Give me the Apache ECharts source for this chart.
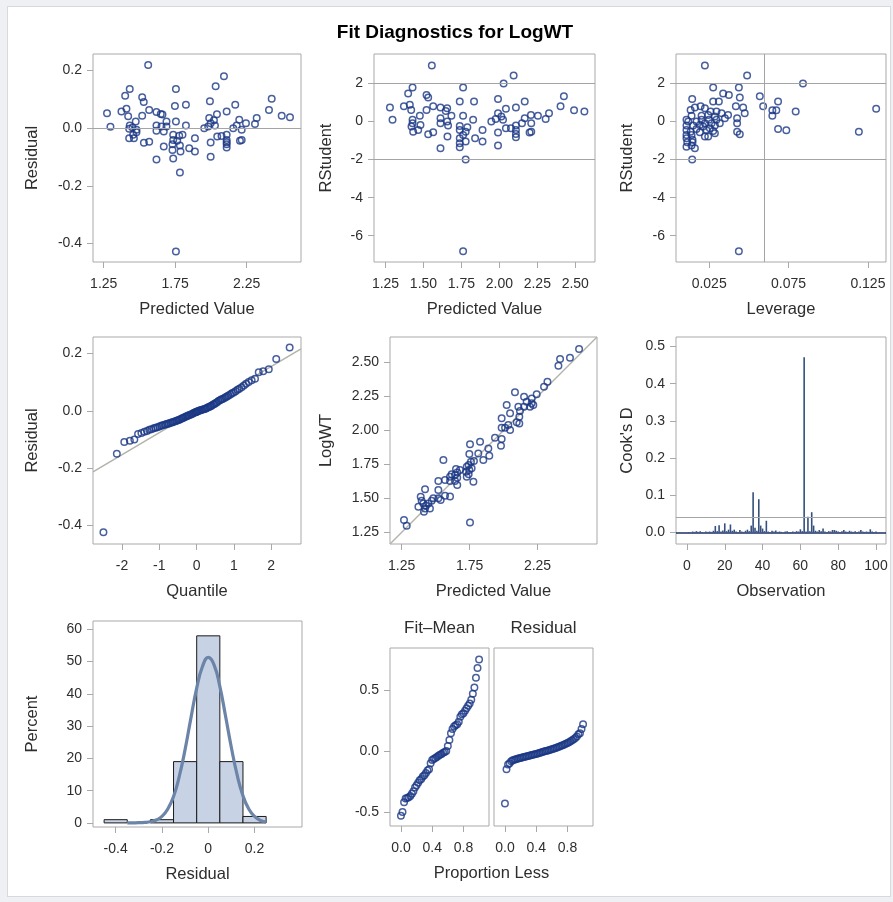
<!DOCTYPE html>
<html><head><meta charset="utf-8">
<script src="https://cdn.jsdelivr.net/npm/echarts@6/dist/echarts.min.js"></script>
<style>
html,body{margin:0;padding:0;background:#eef0f4;}
#bg{position:absolute;left:7px;top:6px;width:882px;height:889px;background:#fff;border:1px solid #d6d9df;}
#c{position:absolute;left:0;top:0;width:893px;height:902px;}
</style>
</head><body><div id="bg"></div><div id="c"></div>
<script>
// ---------- DATA ----------
// Panel 1: Residual vs Predicted Value
const residVsPred = [[1.561,0.219],[2.091,0.180],[2.033,0.145],[1.432,0.136],[1.755,0.136],[1.400,0.112],[1.519,0.107],[1.530,0.091],[2.425,0.102],[1.993,0.093],[1.825,0.081],[1.748,0.077],[2.170,0.081],[2.406,0.063],[1.273,0.052],[1.374,0.058],[1.409,0.067],[1.421,0.041],[1.568,0.063],[1.519,0.043],[1.619,0.056],[1.649,0.049],[1.661,0.047],[2.110,0.058],[2.042,0.048],[2.495,0.043],[2.553,0.038],[2.320,0.035],[2.198,0.029],[2.245,0.017],[2.308,0.014],[1.988,0.035],[2.021,0.027],[1.998,0.017],[2.028,0.009],[1.755,0.023],[1.825,0.009],[1.689,0.023],[1.474,0.023],[1.297,0.005],[1.432,0.009],[1.451,0.002],[1.428,-0.002],[1.479,-0.006],[1.619,0.009],[1.654,0.006],[1.619,-0.009],[1.670,-0.012],[1.953,0.000],[1.981,0.006],[2.156,0.000],[2.180,0.009],[2.215,-0.006],[1.428,-0.035],[1.461,-0.035],[1.479,-0.014],[1.736,-0.023],[1.736,-0.041],[1.778,-0.026],[1.801,-0.023],[1.764,-0.044],[1.888,-0.035],[1.783,-0.060],[1.787,-0.081],[1.731,-0.076],[1.848,-0.070],[1.888,-0.081],[1.670,-0.064],[1.568,-0.047],[1.531,-0.051],[2.044,-0.029],[2.074,-0.027],[2.110,-0.023],[2.110,-0.041],[2.110,-0.056],[2.110,-0.067],[1.998,-0.050],[2.203,-0.044],[2.215,-0.041],[1.619,-0.109],[1.736,-0.105],[1.998,-0.099],[1.783,-0.154],[1.755,-0.428],[1.731,-0.056],[1.456,-0.023],[2.110,-0.049],[1.689,0.006]];
// Panel 2: RStudent vs Predicted Value
const rstudVsPred = [[1.555,2.95],[2.094,2.42],[2.028,2.00],[1.428,1.79],[1.761,1.79],[1.399,1.47],[1.520,1.40],[1.531,1.26],[2.425,1.33],[1.991,1.19],[1.739,1.05],[1.833,1.05],[2.167,1.05],[2.403,0.81],[1.279,0.74],[1.371,0.81],[1.410,0.88],[1.419,0.61],[1.564,0.81],[1.520,0.61],[1.612,0.74],[1.656,0.70],[1.647,0.56],[2.109,0.74],[2.043,0.67],[2.492,0.60],[2.560,0.53],[2.327,0.44],[2.208,0.35],[2.254,0.30],[2.305,0.14],[1.476,0.30],[1.991,0.44],[2.013,0.26],[2.024,0.09],[1.761,0.30],[1.827,0.09],[1.684,0.30],[1.296,0.09],[1.428,0.09],[1.428,-0.09],[1.421,-0.26],[1.480,-0.18],[1.612,0.18],[1.656,0.00],[1.612,-0.09],[1.662,-0.21],[1.947,0.00],[1.976,0.14],[2.149,-0.09],[2.167,0.18],[2.210,-0.09],[1.432,-0.53],[1.465,-0.44],[1.531,-0.67],[1.564,-0.56],[1.739,-0.23],[1.739,-0.44],[1.789,-0.30],[1.761,-0.70],[1.739,-0.88],[1.778,-1.05],[1.739,-1.35],[1.658,-0.79],[1.840,-0.88],[1.889,-0.44],[1.889,-1.05],[1.991,-0.58],[1.991,-1.26],[2.043,-0.35],[2.076,-0.35],[2.109,-0.44],[2.109,-0.65],[2.109,-0.82],[2.210,-0.53],[2.199,-0.58],[1.612,-1.40],[1.778,-2.00],[1.761,-6.81],[2.109,-0.21],[1.739,-1.14],[1.778,-0.53]];
// Panel 3: RStudent vs Leverage
const rstudVsLev = [[0.0223,2.95],[0.0489,2.42],[0.0841,2.00],[0.0275,1.79],[0.0437,1.79],[0.0338,1.47],[0.0374,1.40],[0.0569,1.33],[0.0443,1.26],[0.0143,1.19],[0.0275,1.05],[0.0311,1.05],[0.0684,1.05],[0.0590,0.81],[0.0418,0.81],[0.0160,0.74],[0.0196,0.81],[0.0223,0.70],[0.0133,0.61],[0.0464,0.74],[0.1302,0.67],[0.0648,0.60],[0.0673,0.60],[0.0795,0.53],[0.0474,0.44],[0.0648,0.30],[0.0369,0.35],[0.0349,0.18],[0.0426,0.18],[0.0107,0.09],[0.0139,0.30],[0.0202,0.30],[0.0244,0.35],[0.0286,0.26],[0.0248,0.09],[0.0296,0.09],[0.0170,0.00],[0.0223,-0.09],[0.0265,-0.09],[0.0317,-0.09],[0.0426,-0.09],[0.0107,-0.21],[0.0149,-0.21],[0.0191,-0.18],[0.0286,-0.21],[0.0684,-0.39],[0.0736,-0.46],[0.1193,-0.53],[0.0107,-0.44],[0.0133,-0.53],[0.0191,-0.56],[0.0233,-0.44],[0.0286,-0.61],[0.0426,-0.53],[0.0443,-0.67],[0.0107,-0.70],[0.0139,-0.70],[0.0223,-0.79],[0.0244,-0.79],[0.0107,-0.88],[0.0145,-0.96],[0.0112,-1.09],[0.0145,-1.09],[0.0107,-1.32],[0.0160,-1.40],[0.0139,-1.26],[0.0143,-2.00],[0.0437,-6.81],[0.0170,-0.39],[0.0212,-0.26],[0.0254,-0.35],[0.0275,-0.49],[0.0118,0.00],[0.0202,0.09],[0.0259,0.53],[0.0296,0.53],[0.0328,0.44]];
const leverageCutoff = 0.0621;
const rstudCutoffs = [-2, 2];
// Panel 4: Q-Q plot of residuals
const qqQuantile = [-2.50,-2.14,-1.94,-1.79,-1.67,-1.57,-1.48,-1.40,-1.33,-1.27,-1.21,-1.15,-1.10,-1.05,-1.00,-0.95,-0.91,-0.86,-0.82,-0.78,-0.74,-0.70,-0.66,-0.63,-0.59,-0.55,-0.52,-0.48,-0.45,-0.41,-0.38,-0.35,-0.31,-0.28,-0.25,-0.22,-0.19,-0.15,-0.12,-0.09,-0.06,-0.03,-0.01,0.01,0.03,0.06,0.09,0.12,0.15,0.19,0.22,0.25,0.28,0.31,0.35,0.38,0.41,0.45,0.48,0.52,0.55,0.59,0.63,0.66,0.70,0.74,0.78,0.82,0.86,0.91,0.95,1.00,1.05,1.10,1.15,1.21,1.27,1.33,1.40,1.48,1.57,1.67,1.79,1.94,2.14,2.50];
const qqResidual = [-0.423,-0.150,-0.109,-0.104,-0.100,-0.081,-0.077,-0.073,-0.070,-0.066,-0.064,-0.061,-0.059,-0.057,-0.055,-0.052,-0.050,-0.049,-0.047,-0.045,-0.044,-0.042,-0.041,-0.039,-0.037,-0.036,-0.034,-0.032,-0.030,-0.028,-0.026,-0.024,-0.022,-0.020,-0.018,-0.016,-0.015,-0.013,-0.011,-0.009,-0.007,-0.005,-0.004,-0.003,-0.002,0.000,0.001,0.003,0.004,0.005,0.006,0.008,0.010,0.012,0.014,0.016,0.018,0.022,0.024,0.027,0.030,0.034,0.037,0.039,0.041,0.044,0.047,0.050,0.053,0.057,0.061,0.064,0.068,0.073,0.077,0.082,0.088,0.094,0.100,0.106,0.112,0.134,0.138,0.145,0.180,0.220];
const qqRefLine = [[-2.78,-0.213],[2.805,0.216]];
// Panel 5: LogWT vs Predicted Value
const logwtVsPred = [[2.556,2.600],[2.489,2.536],[2.416,2.526],[2.404,2.477],[2.323,2.359],[2.298,2.322],[2.244,2.266],[2.207,2.236],[2.207,2.200],[2.195,2.175],[2.170,2.212],[2.151,2.175],[2.219,2.187],[2.084,2.281],[2.151,2.249],[2.109,2.175],[2.121,2.143],[2.116,2.101],[2.116,2.052],[2.048,2.126],[2.023,2.187],[1.986,2.089],[1.986,2.020],[2.011,2.020],[2.048,2.003],[2.035,2.040],[2.097,2.060],[1.986,1.937],[1.981,1.888],[1.937,1.947],[1.888,1.868],[1.895,1.814],[1.827,1.917],[1.814,1.831],[1.851,1.782],[1.753,1.898],[1.748,1.826],[1.760,1.770],[1.782,1.775],[1.743,1.745],[1.729,1.733],[1.765,1.721],[1.748,1.709],[1.743,1.677],[1.724,1.696],[1.729,1.660],[1.778,1.623],[1.753,1.323],[1.650,1.716],[1.659,1.691],[1.679,1.709],[1.643,1.672],[1.659,1.652],[1.618,1.677],[1.606,1.660],[1.643,1.628],[1.659,1.598],[1.606,1.628],[1.569,1.635],[1.557,1.782],[1.520,1.628],[1.520,1.561],[1.569,1.520],[1.606,1.513],[1.537,1.488],[1.483,1.500],[1.471,1.483],[1.422,1.568],[1.390,1.512],[1.397,1.483],[1.409,1.463],[1.429,1.446],[1.422,1.426],[1.414,1.402],[1.458,1.426],[1.373,1.439],[1.446,1.463],[1.267,1.340],[1.287,1.299],[1.520,1.500]];
const identityLine = [[1.164,1.164],[2.688,2.688]];
// Panel 6: Cook's D by observation (1..100)
const cooksD = [0.001,0.000,0.002,0.001,0.003,0.001,0.003,0.001,0.000,0.002,0.001,0.002,0.001,0.004,0.017,0.003,0.019,0.002,0.005,0.024,0.003,0.007,0.021,0.004,0.007,0.002,0.001,0.006,0.002,0.001,0.004,0.007,0.003,0.018,0.108,0.012,0.004,0.089,0.018,0.010,0.003,0.031,0.002,0.001,0.004,0.002,0.005,0.001,0.002,0.001,0.000,0.002,0.003,0.001,0.001,0.002,0.001,0.003,0.002,0.008,0.003,0.471,0.002,0.042,0.003,0.054,0.018,0.004,0.002,0.006,0.003,0.010,0.002,0.001,0.003,0.002,0.006,0.006,0.004,0.002,0.001,0.003,0.006,0.002,0.001,0.004,0.002,0.001,0.003,0.001,0.002,0.006,0.002,0.001,0.002,0.001,0.008,0.002,0.001,0.002];
const cooksCutoff = 0.04;
// Panel 7: Histogram of residuals (percent) + density curve
const binStart = [-0.45,-0.35,-0.25,-0.15,-0.05,0.05,0.15];
const binEnd   = [-0.35,-0.25,-0.15,-0.05,0.05,0.15,0.25];
const binPercent = [1,0,1,19,58,19,2];
const densX = [-0.35,-0.325,-0.30,-0.275,-0.25,-0.225,-0.20,-0.175,-0.15,-0.125,-0.10,-0.075,-0.05,-0.025,0,0.025,0.05,0.075,0.10,0.125,0.15,0.175,0.20,0.225,0.25];
const densY = [0.0,0.02,0.06,0.15,0.35,0.9,2.0,4.3,8.2,14.5,22.8,32.5,41.8,48.5,51.3,49.0,42.3,33.0,23.3,14.8,8.4,4.3,2.0,0.8,0.3];
// Panel 8: Residual-Fit spread plot
const propLess = [0.00,0.02,0.04,0.06,0.08,0.10,0.12,0.14,0.16,0.18,0.20,0.22,0.24,0.26,0.28,0.30,0.32,0.34,0.36,0.38,0.40,0.42,0.44,0.46,0.48,0.50,0.52,0.54,0.56,0.58,0.60,0.62,0.64,0.66,0.68,0.70,0.72,0.74,0.76,0.78,0.80,0.82,0.84,0.86,0.88,0.90,0.92,0.94,0.96,0.98,1.00];
const fitMinusMean = [-0.53,-0.50,-0.42,-0.39,-0.385,-0.38,-0.37,-0.35,-0.33,-0.30,-0.28,-0.26,-0.24,-0.23,-0.21,-0.20,-0.18,-0.16,-0.15,-0.10,-0.075,-0.065,-0.058,-0.05,-0.04,-0.03,-0.025,-0.015,-0.008,0.0,0.04,0.09,0.145,0.18,0.20,0.21,0.22,0.24,0.28,0.30,0.31,0.33,0.35,0.37,0.39,0.42,0.47,0.52,0.60,0.68,0.75];
const sortedResid = [-0.43,-0.15,-0.11,-0.10,-0.085,-0.077,-0.072,-0.067,-0.063,-0.060,-0.057,-0.053,-0.050,-0.047,-0.044,-0.041,-0.037,-0.034,-0.030,-0.027,-0.024,-0.020,-0.016,-0.013,-0.009,-0.005,-0.001,0.002,0.006,0.010,0.014,0.018,0.022,0.027,0.032,0.037,0.042,0.047,0.053,0.059,0.065,0.072,0.079,0.087,0.096,0.106,0.118,0.138,0.145,0.18,0.22];
// Tick labels
const p1XTicks = [1.25,1.75,2.25];
const p2XTicks = [1.25,1.50,1.75,2.00,2.25,2.50];
const levTicks = [0.025,0.075,0.125];
const residTicks = [-0.4,-0.2,0.0,0.2];
const rstudTicks = [-6,-4,-2,0,2];
const qqTicks = [-2,-1,0,1,2];
const p5XTicks = [1.25,1.75,2.25];
const p5YTicks = [1.25,1.50,1.75,2.00,2.25,2.50];
const obsTicks = [0,20,40,60,80,100];
const cookTicks = [0.0,0.1,0.2,0.3,0.4,0.5];
const histXTicks = [-0.4,-0.2,0,0.2];
const pctTicks = [0,10,20,30,40,50,60];
const propTicks = [0.0,0.4,0.8];
const spreadTicks = [-0.5,0.0,0.5];

// ---------- CHART ----------
const MK = '#1a3784', REF = '#a4a4a4', BOX = '#a9a9a9', TXT = '#2e2e2e', LINE = '#b3b3ab';
const FONT = '"Liberation Sans", Arial, Helvetica, sans-serif';
const TICKFS = 14, NAMEFS = 16.5;
const f0 = v => String(v), f1 = v => v.toFixed(1), f2 = v => v.toFixed(2), f3 = v => v.toFixed(3);
const fh = v => v === 0 ? '0' : v.toFixed(1);

const gridBoxes = [
  [93,54,208,208],[374,54,221,208],[676,54,210,208],
  [93,337,208,207],[390,337,207,207],[676,337,210,207],
  [93,621,209,206],[390,648,99,178],[494,648,99,178]
];
const grid = gridBoxes.map(b => ({left:b[0], top:b[1], width:b[2], height:b[3], show:true,
  backgroundColor:'#fff', borderColor:BOX, borderWidth:1, containLabel:false}));

function mkX(gi, min, max, ticks, fmt, name) {
  return {type:'value', gridIndex:gi, min, max, position:'bottom',
    name:name||'', nameLocation:'middle', nameGap:39,
    nameTextStyle:{fontFamily:FONT, fontSize:NAMEFS, color:TXT},
    axisLine:{show:false, onZero:false}, splitLine:{show:false},
    axisTick:{show:true, length:6, lineStyle:{color:BOX}, customValues:ticks},
    axisLabel:{show:true, customValues:ticks, formatter:fmt, fontFamily:FONT, fontSize:TICKFS, color:TXT, margin:15}};
}
function mkY(gi, min, max, ticks, fmt, name, gap, hide) {
  return {type:'value', gridIndex:gi, min, max, position:'left',
    name:name||'', nameLocation:'middle', nameGap:gap||40, nameRotate:90,
    nameTextStyle:{fontFamily:FONT, fontSize:NAMEFS, color:TXT},
    axisLine:{show:false, onZero:false}, splitLine:{show:false},
    axisTick:{show:!hide, length:6, lineStyle:{color:BOX}, customValues:ticks},
    axisLabel:{show:!hide, customValues:ticks, formatter:fmt, fontFamily:FONT, fontSize:TICKFS, color:TXT, margin:11}};
}
const xAxis = [
  mkX(0, 1.175, 2.63, p1XTicks, f2, 'Predicted Value'),
  mkX(1, 1.174, 2.63, p2XTicks, f2, 'Predicted Value'),
  mkX(2, 0.0041, 0.1364, levTicks, f3, 'Leverage'),
  mkX(3, -2.78, 2.805, qqTicks, f0, 'Quantile'),
  mkX(4, 1.164, 2.688, p5XTicks, f2, 'Predicted Value'),
  mkX(5, -5.8, 105.3, obsTicks, f0, 'Observation'),
  mkX(6, -0.498, 0.405, histXTicks, fh, 'Residual'),
  mkX(7, -0.14, 1.127, propTicks, f1, ''),
  mkX(8, -0.14, 1.127, propTicks, f1, '')
];
const yAxis = [
  mkY(0, -0.464, 0.257, residTicks, f1, 'Residual', 52),
  mkY(1, -7.38, 3.55, rstudTicks, f0, 'RStudent', 39),
  mkY(2, -7.38, 3.55, rstudTicks, f0, 'RStudent', 40),
  mkY(3, -0.464, 0.257, residTicks, f1, 'Residual', 52),
  mkY(4, 1.164, 2.688, p5YTicks, f2, 'LogWT', 55),
  mkY(5, -0.0316, 0.5256, cookTicks, f1, "Cook's D", 40),
  mkY(6, -1.27, 62.6, pctTicks, f0, 'Percent', 52),
  mkY(7, -0.615, 0.844, spreadTicks, f1, '', 40),
  mkY(8, -0.615, 0.844, spreadTicks, f1, '', 40, true)
];

const mlBase = {silent:true, symbol:'none', animation:false, label:{show:false},
  lineStyle:{color:REF, width:1, type:'solid'}, emphasis:{disabled:true}};
function sc(gi, data, ml) {
  const s = {type:'scatter', xAxisIndex:gi, yAxisIndex:gi, data, symbol:'circle', symbolSize:6.5,
    itemStyle:{color:'rgba(255,255,255,0)', borderColor:MK, borderWidth:1.5}, silent:true, z:3};
  if (ml) s.markLine = Object.assign({}, mlBase, {data:ml});
  return s;
}
function ln(gi, data) {
  return {type:'line', xAxisIndex:gi, yAxisIndex:gi, data, symbol:'none', silent:true,
    lineStyle:{color:LINE, width:1.5}, z:2};
}

const series = [
  sc(0, residVsPred, [{yAxis:0}]),
  sc(1, rstudVsPred, rstudCutoffs.map(v => ({yAxis:v}))),
  sc(2, rstudVsLev, rstudCutoffs.map(v => ({yAxis:v})).concat([{xAxis:leverageCutoff}])),
  ln(3, qqRefLine),
  sc(3, qqQuantile.map((q,i) => [q, qqResidual[i]])),
  ln(4, identityLine),
  sc(4, logwtVsPred),
  {type:'bar', xAxisIndex:5, yAxisIndex:5, data:cooksD.map((v,i) => [i+1, v]), barWidth:1.6,
   itemStyle:{color:'#34507f'}, silent:true, z:3,
   markLine:Object.assign({}, mlBase, {data:[
     {yAxis:cooksCutoff},
     {yAxis:0, lineStyle:{color:'#1b2f66', width:1.6, type:'solid'}}
   ]})},
  {type:'custom', xAxisIndex:6, yAxisIndex:6, silent:true, z:2,
   data: binStart.map((s,i) => [s, binEnd[i], binPercent[i]]),
   renderItem: function(params, api) {
     const h = api.value(2);
     if (!(h > 0)) return null;
     const p0 = api.coord([api.value(0), h]);
     const p1 = api.coord([api.value(1), 0]);
     return {type:'rect', shape:{x:p0[0], y:p0[1], width:p1[0]-p0[0], height:p1[1]-p0[1]},
       style:{fill:'#c7d2e4', stroke:'#1a1a1a', lineWidth:1}};
   }},
  {type:'line', xAxisIndex:6, yAxisIndex:6, data:densX.map((x,i) => [x, densY[i]]), smooth:true,
   symbol:'none', silent:true, z:4, lineStyle:{color:'#6c84a8', width:3.2}},
  sc(7, propLess.map((p,i) => [p, fitMinusMean[i]])),
  sc(8, propLess.map((p,i) => [p, sortedResid[i]]))
];

const graphic = [
  {type:'text', x:455, y:33, style:{text:'Fit Diagnostics for LogWT', fontFamily:FONT, fontSize:19, fontWeight:'bold',
    fill:'#000', textAlign:'center', textVerticalAlign:'middle'}},
  {type:'text', x:439.5, y:628, style:{text:'Fit\u2013Mean', fontFamily:FONT, fontSize:17, fill:TXT, textAlign:'center', textVerticalAlign:'middle'}},
  {type:'text', x:543.5, y:628, style:{text:'Residual', fontFamily:FONT, fontSize:17, fill:TXT, textAlign:'center', textVerticalAlign:'middle'}},
  {type:'text', x:491.5, y:873, style:{text:'Proportion Less', fontFamily:FONT, fontSize:NAMEFS, fill:TXT, textAlign:'center', textVerticalAlign:'middle'}}
];

const chart = echarts.init(document.getElementById('c'), null, {renderer:'canvas'});
chart.setOption({animation:false, backgroundColor:'transparent', grid, xAxis, yAxis, series, graphic});
</script></body></html>
